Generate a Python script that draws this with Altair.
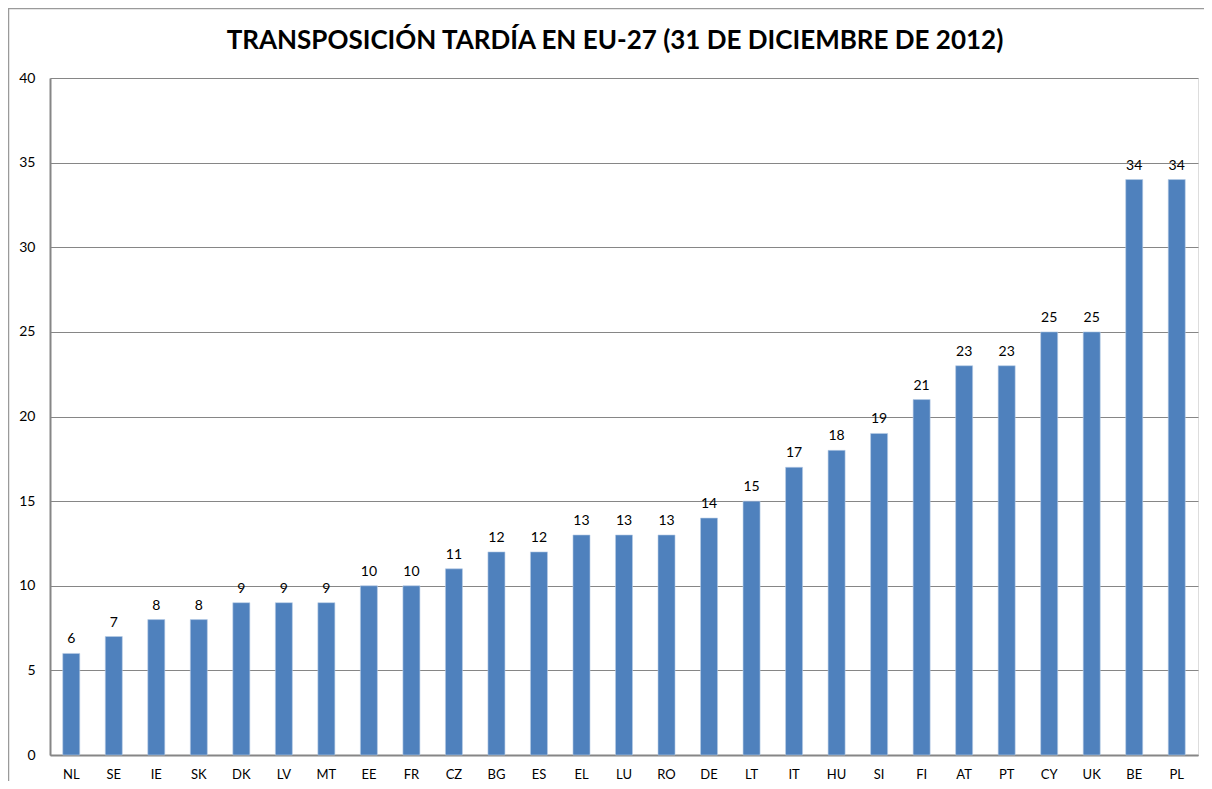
import altair as alt
import pandas as pd

countries = ["NL", "SE", "IE", "SK", "DK", "LV", "MT", "EE", "FR", "CZ", "BG", "ES", "EL", "LU",
             "RO", "DE", "LT", "IT", "HU", "SI", "FI", "AT", "PT", "CY", "UK", "BE", "PL"]
values = [6, 7, 8, 8, 9, 9, 9, 10, 10, 11, 12, 12, 13, 13, 13, 14, 15, 17, 18, 19, 21, 23, 23, 25, 25, 34, 34]
title_text = "TRANSPOSICIÓN TARDÍA EN EU-27 (31 DE DICIEMBRE DE 2012)"

df = pd.DataFrame({"pais": countries, "valor": values})
FONT = "Lato"
W, H = 1148, 677

base = alt.Chart(df)

bars = base.mark_bar(color="#4F81BD", stroke="#B9CDE5", strokeWidth=0.6).encode(
    x=alt.X("pais:N", sort=countries, title=None,
            scale=alt.Scale(paddingInner=0.6, paddingOuter=0.3),
            axis=alt.Axis(labelAngle=0, labelFont=FONT, labelFontSize=13, labelColor="#000000",
                          labelPadding=13, ticks=False, domainColor="#868686", domainWidth=2)),
    y=alt.Y("valor:Q", title=None,
            scale=alt.Scale(domain=[0, 40], nice=False),
            axis=alt.Axis(values=[0, 5, 10, 15, 20, 25, 30, 35, 40], labelFont=FONT, labelFontSize=14,
                          labelColor="#000000", labelPadding=15, ticks=False,
                          domainColor="#868686", domainWidth=2,
                          grid=True, gridColor="#868686", gridWidth=1)),
)

labels = base.mark_text(dy=-14, font=FONT, fontSize=14, color="#000000").encode(
    x=alt.X("pais:N", sort=countries),
    y=alt.Y("valor:Q"),
    text=alt.Text("valor:Q"),
)

one = pd.DataFrame({"a": [0]})
frame_top = alt.Chart(one).mark_rule(color="#9A9A9A", strokeWidth=1.5).encode(
    x=alt.value(-42), x2=alt.value(W + 30), y=alt.value(-69.5)
)
frame_left = alt.Chart(one).mark_rule(color="#9A9A9A", strokeWidth=1.5).encode(
    x=alt.value(-41.5), y=alt.value(-70), y2=alt.value(H + 26)
)
title = alt.Chart(one).mark_text(
    font=FONT, fontSize=26, fontWeight="bold", color="#000000", align="center", baseline="alphabetic"
).encode(
    x=alt.value(W / 2 - 9), y=alt.value(-29), text=alt.value(title_text)
)

chart = alt.layer(frame_top, frame_left, bars, labels, title).properties(
    width=W, height=H,
    autosize=alt.AutoSizeParams(type="none"),
    padding={"left": 42, "top": 70, "right": 6, "bottom": 26},
).configure_view(stroke=None).configure(background="white")

chart.save("out.html", embed_options={"renderer": "svg", "actions": False})
